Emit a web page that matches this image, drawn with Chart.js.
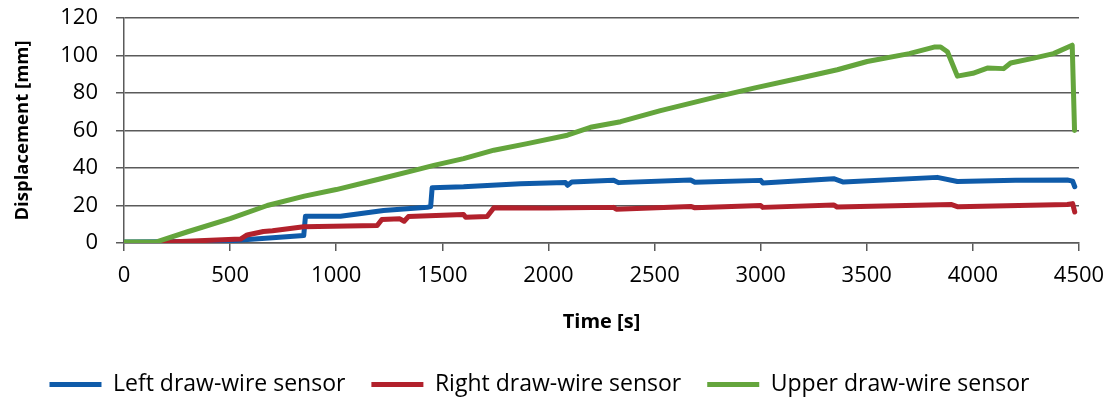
<!DOCTYPE html>
<html>
<head>
<meta charset="utf-8">
<script src="https://cdn.jsdelivr.net/npm/chart.js@4"></script>
<style>
  html, body { margin: 0; padding: 0; background: #fff; }
  #wrap { width: 1111px; height: 406px; }
</style>
</head>
<body>
<div id="wrap"><canvas id="chart"></canvas></div>
<script>
// time [s] and displacement [mm]
var leftT = [0, 500, 549, 700, 847, 855, 1020, 1100, 1223, 1429, 1445, 1452, 1600, 1868, 2080, 2090, 2110, 2307, 2330, 2670, 2690, 3000, 3010, 3344, 3390, 3832, 3927, 4200, 4445, 4470, 4480]
var leftY = [0.5, 1, 1.6, 2.8, 4, 14.3, 14.3, 15.5, 17.3, 19.1, 19.5, 29.5, 30, 31.6, 32.3, 30.8, 32.5, 33.5, 32.2, 33.6, 32.4, 33.4, 32, 34.3, 32.5, 35, 32.8, 33.5, 33.6, 33, 30]

var rightT = [0, 156, 549, 580, 657, 700, 847, 1193, 1215, 1300, 1320, 1340, 1600, 1610, 1711, 1743, 2000, 2307, 2320, 2670, 2690, 3000, 3010, 3344, 3360, 3900, 3930, 4445, 4470, 4480]
var rightY = [0.3, 0.3, 2.1, 4.3, 6.1, 6.5, 8.7, 9.3, 12.5, 12.9, 11.6, 14.1, 15.2, 13.7, 14.1, 18.8, 18.6, 19, 18, 19.5, 18.8, 20, 19, 20.3, 19.2, 20.5, 19.3, 20.5, 21, 16.5]

var upperT = [0, 150, 300, 500, 675, 850, 1000, 1200, 1400, 1460, 1600, 1743, 1900, 2089, 2198, 2340, 2528, 2811, 2968, 3187, 3361, 3502, 3700, 3817, 3848, 3880, 3927, 4000, 4068, 4145, 4178, 4287, 4380, 4468, 4479]
var upperY = [0.5, 0.5, 6, 13, 20, 25, 28.5, 34, 39.7, 41.4, 45, 49.5, 53, 57.5, 61.7, 64.7, 70.6, 78.5, 82.6, 88, 92.4, 96.8, 101, 104.5, 104.5, 102, 89, 90.5, 93.3, 93, 96, 98.6, 101, 105.5, 60]

var xTicks = [0, 500, 1000, 1500, 2000, 2500, 3000, 3500, 4000, 4500]

function pts(t, y) {
    return t.map(function (v, i) { return {x: v, y: y[i]}; });
}

var gridColor = '#5a5a5a';
var font = 'Open Sans';

var chart = new Chart(
    document.getElementById('chart'),
    {
        type: 'line',
        data: {
            datasets: [
                {
                    label: 'Left draw-wire sensor',
                    data: pts(leftT, leftY),
                    borderColor: '#0f5ba9',
                    backgroundColor: '#0f5ba9',
                    order: 2,
                },
                {
                    label: 'Right draw-wire sensor',
                    data: pts(rightT, rightY),
                    borderColor: '#b2212c',
                    backgroundColor: '#b2212c',
                    order: 1,
                },
                {
                    label: 'Upper draw-wire sensor',
                    data: pts(upperT, upperY),
                    borderColor: '#64a53c',
                    backgroundColor: '#64a53c',
                    order: 0,
                },
            ]
        },
        options: {
            responsive: true,
            maintainAspectRatio: false,
            animation: false,
            layout: { padding: { top: 18, right: 32, left: 0, bottom: 0 } },
            elements: {
                line: { borderWidth: 5, tension: 0, borderCapStyle: 'round', borderJoinStyle: 'round' },
                point: { radius: 0, borderWidth: 5 }
            },
            plugins: {
                tooltip: { enabled: false },
                legend: {
                    position: 'bottom',
                    labels: {
                        sort: function (a, b) { return a.datasetIndex - b.datasetIndex; },
                        usePointStyle: true,
                        pointStyle: 'line',
                        pointStyleWidth: 52,
                        padding: 26,
                        color: '#000',
                        font: { family: font, size: 23 }
                    }
                }
            },
            scales: {
                x: {
                    type: 'linear',
                    min: 0,
                    max: 4500,
                    afterBuildTicks: function (scale) {
                        scale.ticks = xTicks.map(function (v) { return {value: v}; });
                    },
                    afterFit: function (scale) {
                        scale.height = 104;
                        scale.paddingLeft = 0;
                        scale.paddingRight = 0;
                    },
                    grid: { drawOnChartArea: false, drawTicks: true, tickLength: 8, color: gridColor, lineWidth: 1.5 },
                    border: { color: gridColor, width: 1.5 },
                    ticks: {
                        color: '#000', padding: 12, maxRotation: 0,
                        font: { family: font, size: 22 },
                        callback: function (v) { return String(v); }
                    },
                    title: {
                        display: true,
                        text: 'Time [s]',
                        color: '#000',
                        padding: { top: 0, bottom: 13 },
                        font: { family: font, size: 20, weight: 'bold' }
                    }
                },
                y: {
                    min: 0,
                    max: 120,
                    ticks: {
                        stepSize: 20, color: '#000', padding: 18,
                        font: { family: font, size: 22 },
                        callback: function (v) { return String(v); }
                    },
                    afterFit: function (scale) {
                        scale.width = 124;
                        scale.paddingTop = 0;
                        scale.paddingBottom = 0;
                    },
                    grid: { color: gridColor, lineWidth: 1.5, tickLength: 8 },
                    border: { color: gridColor, width: 1.5 },
                    title: {
                        display: true,
                        text: 'Displacement [mm]',
                        color: '#000',
                        padding: { top: 12, bottom: 0 },
                        font: { family: font, size: 18.5, weight: 'bold' }
                    }
                }
            }
        }
    }
);
</script>
</body>
</html>
